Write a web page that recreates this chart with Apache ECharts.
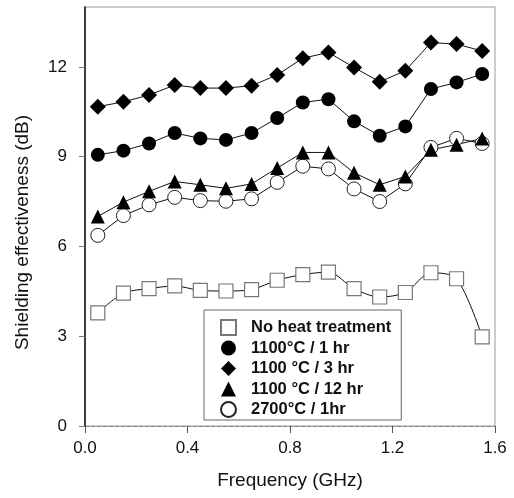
<!DOCTYPE html>
<html><head><meta charset="utf-8">
<script src="https://cdn.jsdelivr.net/npm/echarts@6/dist/echarts.min.js"></script>
<style>html,body{margin:0;padding:0;background:#fff}#c{width:514px;height:498px}</style>
</head><body><div id="c"></div>
<script>
const freq = [0.05,0.15,0.25,0.35,0.45,0.55,0.65,0.75,0.85,0.95,1.05,1.15,1.25,1.35,1.45,1.55];
const noHeat = [3.78,4.44,4.59,4.68,4.53,4.51,4.56,4.87,5.06,5.14,4.59,4.31,4.46,5.12,4.92,2.98];
const c1100_1h = [9.06,9.20,9.44,9.79,9.61,9.56,9.79,10.29,10.81,10.92,10.18,9.70,10.01,11.26,11.48,11.76];
const c1100_3h = [10.67,10.83,11.06,11.39,11.29,11.29,11.37,11.73,12.29,12.48,11.98,11.50,11.87,12.81,12.76,12.53];
const c1100_12h = [7.00,7.48,7.84,8.17,8.06,7.94,8.09,8.62,9.14,9.14,8.46,8.06,8.34,9.23,9.40,9.61];
const c2700_1h = [6.37,7.03,7.39,7.64,7.53,7.51,7.59,8.14,8.68,8.59,7.92,7.50,8.09,9.31,9.61,9.44];
const names = ['No heat treatment','1100\u00B0C / 1 hr','1100 \u00B0C / 3 hr','1100 \u00B0C / 12 hr','2700\u00B0C / 1hr'];
const xTicks = {min:0, max:1.6, interval:0.4};
const yTicks = {min:0, max:14, interval:3};

const pairs = v => freq.map((f,i)=>[f, v[i]]);
const font = 'Liberation Sans, Arial, sans-serif';
const lineStyle = {color:'#111', width:1};

const chart = echarts.init(document.getElementById('c'), null, {renderer:'canvas'});
chart.setOption({
  animation:false,
  backgroundColor:'#fff',
  grid:{left:85, right:19, top:7, bottom:72, show:true, borderColor:'#999', borderWidth:1},
  xAxis:{
    type:'value', min:xTicks.min, max:xTicks.max, interval:xTicks.interval,
    name:'Frequency (GHz)', nameLocation:'middle', nameGap:45,
    nameTextStyle:{fontFamily:font, fontSize:19, color:'#111'},
    axisLine:{show:true, lineStyle:{color:'#888', width:1, type:'dashed'}},
    axisTick:{show:true, length:7, lineStyle:{color:'#555'}},
    axisLabel:{fontFamily:font, fontSize:17, color:'#111', margin:14, formatter:v=>v.toFixed(1)},
    splitLine:{show:false}
  },
  yAxis:{
    type:'value', min:yTicks.min, max:yTicks.max, interval:yTicks.interval,
    name:'Shielding effectiveness (dB)', nameLocation:'middle', nameGap:53,
    nameTextStyle:{fontFamily:font, fontSize:19, color:'#111', padding:[0,32,0,0]},
    axisLine:{show:true, lineStyle:{color:'#111', width:1.5}},
    axisTick:{show:true, length:6, lineStyle:{color:'#777'}},
    axisLabel:{fontFamily:font, fontSize:17, color:'#111', margin:18, showMaxLabel:false},
    splitLine:{show:false}
  },
  legend:{
    orient:'vertical', left:204, top:310, padding:[9,10,2,16],
    itemWidth:15, itemHeight:15, itemGap:3.5,
    borderColor:'#666', borderWidth:1, backgroundColor:'#fff',
    textStyle:{fontFamily:font, fontSize:16.5, fontWeight:'bold', color:'#111', padding:[0,0,0,10]},
    data:[
      {name:names[0], icon:'rect'},
      {name:names[1], icon:'circle'},
      {name:names[2], icon:'diamond'},
      {name:names[3], icon:'triangle'},
      {name:names[4], icon:'circle'}
    ]
  },
  series:[
    {name:names[0], type:'line', data:pairs(noHeat), smooth:0.3, symbol:'rect', symbolSize:14,
     lineStyle:lineStyle, itemStyle:{color:'#fff', borderColor:'#777', borderWidth:1.2}},
    {name:names[4], type:'line', data:pairs(c2700_1h), symbol:'circle', symbolSize:14,
     lineStyle:lineStyle, itemStyle:{color:'#fff', borderColor:'#222', borderWidth:1}},
    {name:names[1], type:'line', data:pairs(c1100_1h), symbol:'circle', symbolSize:14,
     lineStyle:lineStyle, itemStyle:{color:'#000', borderColor:'#000', borderWidth:0}},
    {name:names[2], type:'line', data:pairs(c1100_3h), symbol:'diamond', symbolSize:16,
     lineStyle:lineStyle, itemStyle:{color:'#000', borderColor:'#000', borderWidth:0}},
    {name:names[3], type:'line', data:pairs(c1100_12h), symbol:'triangle', symbolSize:14,
     lineStyle:lineStyle, itemStyle:{color:'#000', borderColor:'#000', borderWidth:0}}
  ]
});
</script></body></html>
